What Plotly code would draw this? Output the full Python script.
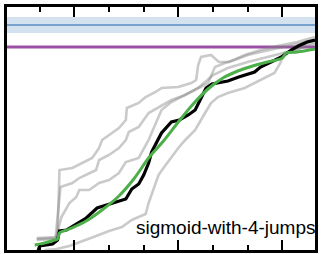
import plotly.graph_objects as go

# ---- data (x: step units, y: score units) ----
green_x = [30, 40, 50, 53, 55, 65, 82, 98, 115, 130, 145, 160, 175, 190, 205, 220, 235, 250, 265, 280, 284, 295, 313]
green_y = [5, 7, 10, 11, 17, 21, 29, 40, 54, 71, 92, 109, 128, 146, 161, 172, 179, 184, 188, 192, 197, 198, 201]

black_x = [33, 35, 48, 53, 55, 62, 72, 82, 93, 102, 110, 122, 128, 135, 140, 145, 148, 152, 158, 168, 176, 185, 192, 196, 203, 209, 225, 236, 252, 258, 266, 279, 289, 296, 305, 313]
black_y = [-2, 4, 6, 10, 19, 20, 26, 32, 42, 45, 47, 51, 61, 66, 75, 87, 98, 105, 117, 128, 130, 135, 140, 148, 162, 166, 169, 173, 178, 183, 187, 193, 200, 204, 208, 210]

gray_a_x = [32, 51, 53, 55, 68, 78, 88, 95, 98, 108, 115, 122, 123, 135, 142, 152, 158, 175, 188, 193, 195, 198, 208, 216, 226, 242, 258, 275, 295, 313]
gray_a_y = [12, 13, 14, 80, 82, 87, 92, 102, 110, 117, 122, 130, 142, 147, 153, 158, 162, 163, 167, 170, 185, 193, 195, 188, 188, 195, 200, 204, 208, 213]

gray_b_x = [32, 51, 56, 68, 75, 82, 92, 95, 105, 115, 122, 125, 135, 145, 155, 168, 182, 192, 205, 212, 222, 232, 245, 258, 275, 295, 313]
gray_b_y = [11, 12, 63, 67, 72, 75, 80, 90, 95, 102, 110, 118, 123, 137, 143, 150, 155, 160, 167, 183, 187, 190, 195, 198, 202, 206, 210]

gray_c_x = [32, 51, 57, 65, 72, 75, 85, 95, 105, 115, 122, 135, 145, 152, 158, 168, 182, 195, 210, 225, 245, 265, 285, 313]
gray_c_y = [10, 11, 33, 47, 53, 60, 60, 67, 70, 77, 88, 92, 110, 127, 140, 148, 155, 162, 175, 182, 188, 193, 198, 206]

gray_d_x = [40, 52, 65, 82, 92, 105, 118, 128, 142, 145, 150, 155, 160, 168, 175, 182, 192, 202, 208, 215, 225, 242, 252, 262, 272, 278, 282, 292, 302, 313]
gray_d_y = [0, 1, 4, 10, 14, 19, 23, 30, 36, 47, 60, 75, 82, 93, 102, 110, 120, 137, 147, 153, 157, 162, 167, 172, 177, 187, 197, 198, 205, 208]

blue_level = 225
blue_band = (217, 233)
purple_level = 203

x_range = [2, 313]
y_range = [0, 243]
label = "sigmoid-with-4-jumps"

fig = go.Figure()

fig.add_hrect(y0=blue_band[0], y1=blue_band[1], fillcolor="rgb(212,226,240)",
              line_width=0, layer="below")
fig.add_hline(y=blue_level, line=dict(color="rgb(88,140,192)", width=1.6), layer="below")
fig.add_hline(y=purple_level, line=dict(color="rgb(155,80,165)", width=3), layer="below")

gray = "rgba(128,128,128,0.42)"
for gx, gy in [(gray_a_x, gray_a_y), (gray_b_x, gray_b_y), (gray_c_x, gray_c_y), (gray_d_x, gray_d_y)]:
    fig.add_trace(go.Scatter(x=gx, y=gy, mode="lines",
                             line=dict(color=gray, width=2.6), hoverinfo="skip"))

fig.add_trace(go.Scatter(x=black_x, y=black_y, mode="lines",
                         line=dict(color="black", width=3.2)))
fig.add_trace(go.Scatter(x=green_x, y=green_y, mode="lines",
                         line=dict(color="rgb(77,175,74)", width=3), line_shape="spline"))

fig.add_annotation(text=label, xref="paper", yref="y", x=1, y=23,
                   xanchor="right", yanchor="middle", showarrow=False, xshift=3,
                   font=dict(family="Liberation Sans, Arial", size=19, color="black"))

fig.update_layout(
    width=322, height=254,
    margin=dict(l=7, r=4, t=7, b=4),
    paper_bgcolor="white", plot_bgcolor="white",
    showlegend=False,
)
fig.update_xaxes(range=x_range, showgrid=False, zeroline=False,
                 showline=True, linewidth=3, linecolor="black", mirror="allticks",
                 ticks="inside", ticklen=10, tickwidth=2, tickcolor="black",
                 tickmode="linear", tick0=70, dtick=105, showticklabels=False,
                 minor=dict(ticks="inside", ticklen=5, tickwidth=2, tickcolor="black",
                            tick0=0, dtick=35, showgrid=False))
fig.update_yaxes(range=y_range, showgrid=False, zeroline=False,
                 showline=True, linewidth=3, linecolor="black", mirror=True,
                 ticks="", showticklabels=False)

fig.write_html("out.html", config={"displayModeBar": False},
               post_script="document.body.style.margin='0';document.body.style.padding='0';")
